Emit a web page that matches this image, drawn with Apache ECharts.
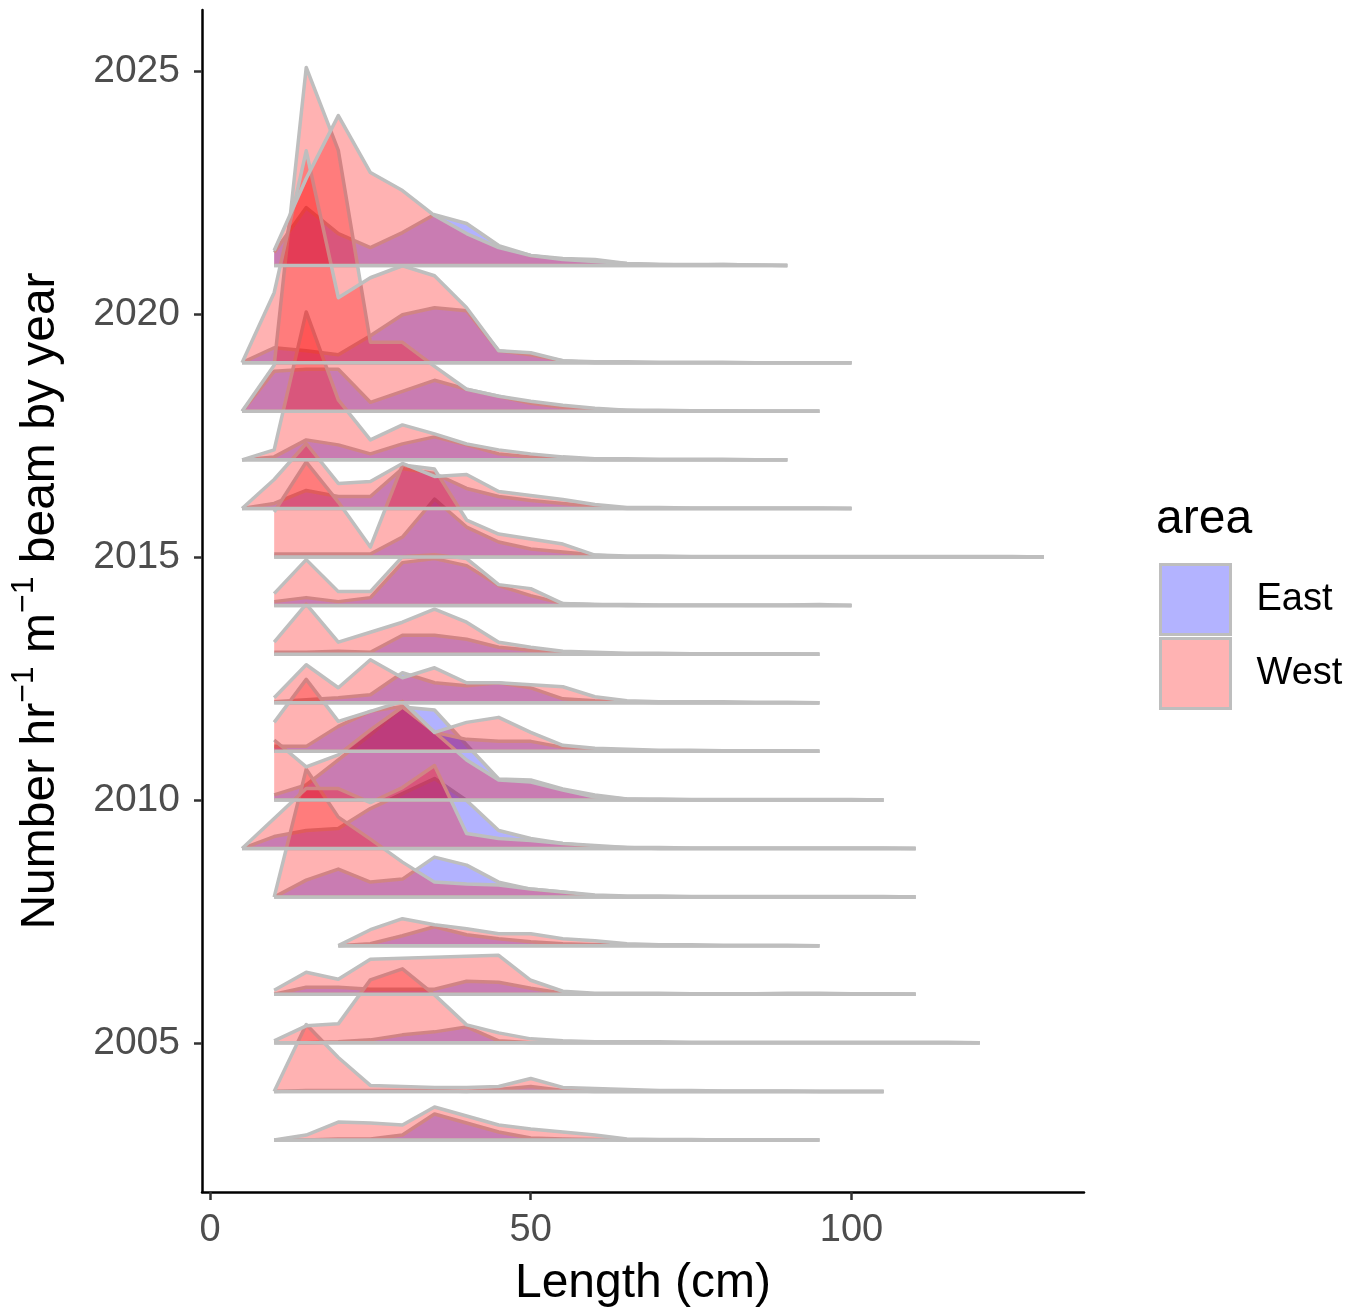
<!DOCTYPE html>
<html><head><meta charset="utf-8">
<script src="https://cdn.jsdelivr.net/npm/echarts@6/dist/echarts.min.js"></script>
<style>html,body{margin:0;padding:0;background:#fff}#chart{width:1367px;height:1313px}</style>
</head><body><div id="chart"></div>
<script>
// ---- data (heights, relative units) ----
const years    = [2003,2004,2005,2006,2007,2008,2009,2010,2011,2012,2013,2014,2015,2016,2017,2018,2019,2021];
const startLen = [10,10,10,10,20,10,5,10,10,10,10,10,10,5,5,5,5,10];
const endLen   = [95,105,120,110,95,110,110,105,95,95,95,100,130,100,90,95,100,90];
const STEP = 5; // cm between length classes

const west2003 = [0,5,18,17,15,33,24,15,11,8,5,1,0.5,0.5,0,0,0,0];
const east2003 = [0,0,1,1,5,26,17,8,2,1,0.5,0,0,0,0,0,0,0];
const west2004 = [0,67,34,6,5,4,4,5,13,4,3,2,1,1,0.5,0.5,0.5,0,0,0];
const east2004 = [0,1,1,1,1,1,0,2,5,1,0,0,0,0,0,0,0,0,0,0];
const west2005 = [2,17,19,63,74,48,18,10,4,2,1,1,1,0.5,0.5,0.5,0.5,0.5,0.5,0.5,0.5,0.5,0];
const east2005 = [0,0,1,3,8,11,16,2,0,0,0,0,0,0,0,0,0,0,0,0,0,0,0];
const west2006 = [4,22,15,35,36,37,38,39,14,3,1,1,1,0.5,0.5,0.5,1,1,0.5,0.5,0];
const east2006 = [0,7,7,5,5,5,13,12,6,1,0,0,0,0,0,0,0,0,0,0,0];
const west2007 = [0,16,27,21,17,12,12,7,5,2,1,1,0.5,0.5,0.5,0];
const east2007 = [0,2,10,19,11,7,4,2,1,1,0,0,0,0,0,0];
const west2008 = [0,128,80,58,35,15,13,12,8,5,2,1,1,0.5,0.5,0.5,0.5,0.5,0.5,0.5,0];
const east2008 = [0,17,28,15,18,40,32,15,8,5,1,0,0,0,0,0,0,0,0,0,0];
const west2009 = [0,30,60,60,46,61,83,15,10,8,5,3,1,1,0.5,0.5,0.5,0.5,0.5,0.5,0.5,0];
const east2009 = [0,12,18,20,40,55,70,48,18,10,5,2,1,0,0,0,0,0,0,0,0,0];
const west2010 = [60,33,45,70,93,68,40,20,18,10,3,1,1,0.5,0.5,0.5,0.5,0.5,0.5,0];
const east2010 = [5,15,40,65,93,90,55,21,20,11,5,1,0,0,0,0,0,0,0,0];
const west2011 = [29,72,30,40,50,19,29,34,19,6,3,2,1,1,0.5,0.5,0.5,0];
const east2011 = [5,5,25,40,45,19,12,10,10,4,2,1,0,0,0,0,0,0];
const west2012 = [5,38,15,43,25,35,20,20,18,16,6,2,1,1,1,0.5,0.5,0];
const east2012 = [1,3,5,8,30,20,17,20,15,4,2,1,0,0,0,0,0,0];
const west2013 = [12,50,12,22,32,45,32,12,7,3,2,1,1,0.5,0.5,0.5,0.5,0];
const east2013 = [2,2,3,2,19,19,15,7,4,2,1,0,0,0,0,0,0,0];
const west2014 = [12,46,14,14,49,51,47,21,17,2,1,1,0.5,0.5,0.5,0.5,0.5,1,0];
const east2014 = [4,8,4,8,43,47,40,20,10,2,1,0,0,0,0,0,0,0,0];
const west2015 = [45,95,55,10,92,88,37,23,18,13,2,1,1,0.5,0.5,0.5,0.5,0.5,0.5,0.5,0.5,0.5,0.5,0.5,0];
const east2015 = [3,3,3,3,20,58,30,15,8,5,2,0,0,0,0,0,0,0,0,0,0,0,0,0,0];
const west2016 = [0,29,65,25,27,45,32,34,17,13,9,4,1,1,0.5,0.5,0.5,0.5,0.5,0];
const east2016 = [0,5,18,12,12,40,35,20,12,8,5,2,0,0,0,0,0,0,0,0];
const west2017 = [0,10,148,60,20,35,26,16,10,6,3,1,1,0.5,0.5,0.5,0,0];
const east2017 = [0,3,20,15,6,16,23,15,6,3,1,0,0,0,0,0,0,0];
const west2018 = [0,46,344,261,69,69,45,22,15,10,6,3,1,1,0.5,0.5,0,0,0];
const east2018 = [0,40,42,42,9,20,31,22,15,8,4,2,1,0,0,0,0,0,0];
const west2019 = [0,70,212,65,85,97,87,55,12,10,2,1,1,0.5,0.5,0.5,0,0,0,0];
const east2019 = [0,15,12,8,27,48,55,52,12,8,2,0,0,0,0,0,0,0,0,0];
const west2021 = [15,87,150,93,75,50,32,18,10,6,4,2,1,1,1,0.5,0];
const east2021 = [13,58,32,18,33,51,42,20,10,7,6,2,1,0.5,1,0.5,0];

const westByYear = [west2003,west2004,west2005,west2006,west2007,west2008,west2009,west2010,west2011,
  west2012,west2013,west2014,west2015,west2016,west2017,west2018,west2019,west2021];
const eastByYear = [east2003,east2004,east2005,east2006,east2007,east2008,east2009,east2010,east2011,
  east2012,east2013,east2014,east2015,east2016,east2017,east2018,east2019,east2021];

const xTicks = [0,50,100];
const yTicks = [2005,2010,2015,2020,2025];
const RIDGE_SCALE = 1/48.6; // value -> year-row height

const FONT = '"Liberation Sans", Arial, sans-serif';
const LINE = '#BEBEBE';

function ridgeRenderer(series, fill) {
  return function (params, api) {
    const i = params.dataIndex;
    const year = years[i], s = startLen[i], e = endLen[i];
    const h = series[i];
    const top = h.map((v, k) => api.coord([s + k * STEP, year + v * RIDGE_SCALE]));
    const b0 = api.coord([s, year]);
    const b1 = api.coord([e, year]);
    return {
      type: 'group',
      children: [
        { type: 'polygon', shape: { points: top.concat([b1, b0]) }, style: { fill: fill, stroke: null } },
        { type: 'polyline', shape: { points: top }, style: { stroke: LINE, lineWidth: 3.5, fill: null, lineJoin: 'round' } },
        { type: 'line', shape: { x1: b0[0], y1: b0[1], x2: b1[0], y2: b1[1] }, style: { stroke: LINE, lineWidth: 3.5 } }
      ]
    };
  };
}

const chart = echarts.init(document.getElementById('chart'), null, { renderer: 'canvas' });
const seriesData = years.map((y, i) => [startLen[i], y]);

chart.setOption({
  backgroundColor: '#fff',
  animation: false,
  grid: { left: 200, top: 10, width: 884, height: 1182, containLabel: false },
  xAxis: {
    type: 'value', min: -1.25, max: 136.25,
    name: 'Length (cm)', nameLocation: 'middle', nameGap: 68,
    nameTextStyle: { fontSize: 48, color: '#000', fontFamily: FONT },
    axisLine: { onZero: false, lineStyle: { color: '#000', width: 2.5 } },
    axisTick: { customValues: xTicks, length: 8, lineStyle: { color: '#333', width: 2.5 } },
    axisLabel: { customValues: xTicks, fontSize: 38, color: '#4D4D4D', margin: 20, fontFamily: FONT,
      formatter: v => String(v) },
    splitLine: { show: false }
  },
  yAxis: {
    type: 'value', min: 2001.93, max: 2026.26,
    name: 'Number hr{sup|\u22121} m{sup|\u22121} beam by year', nameLocation: 'middle', nameGap: 128, nameRotate: 90,
    nameTextStyle: { fontSize: 48, lineHeight: 66, color: '#000', fontFamily: FONT,
      rich: { sup: { fontSize: 32, lineHeight: 32, verticalAlign: 'top', color: '#000', fontFamily: FONT } } },
    axisLine: { onZero: false, lineStyle: { color: '#000', width: 2.5 } },
    axisTick: { customValues: yTicks, length: 8, lineStyle: { color: '#333', width: 2.5 } },
    axisLabel: { customValues: yTicks, fontSize: 39, color: '#4D4D4D', margin: 22, fontFamily: FONT,
      formatter: v => String(v) },
    splitLine: { show: false }
  },
  legend: {
    orient: 'vertical', left: 1154, top: 558, itemWidth: 70, itemHeight: 70, itemGap: 1,
    icon: 'rect', selectedMode: false,
    textStyle: { fontSize: 38, color: '#000', fontFamily: FONT, padding: [0, 0, 0, 21] },
    data: [
      { name: 'East', itemStyle: { color: '#B3B3FF', borderColor: LINE, borderWidth: 3 } },
      { name: 'West', itemStyle: { color: '#FFB3B3', borderColor: LINE, borderWidth: 3 } }
    ]
  },
  graphic: [
    { type: 'text', left: 1156, top: 496, style: { text: 'area', fontSize: 48, fill: '#000', fontFamily: FONT } }
  ],
  series: [
    { type: 'custom', name: 'East', data: seriesData, clip: false,
      itemStyle: { color: 'rgba(0,0,255,0.3)' }, renderItem: ridgeRenderer(eastByYear, 'rgba(0,0,255,0.3)') },
    { type: 'custom', name: 'West', data: seriesData, clip: false,
      itemStyle: { color: 'rgba(255,0,0,0.3)' }, renderItem: ridgeRenderer(westByYear, 'rgba(255,0,0,0.3)') }
  ]
});
</script></body></html>
